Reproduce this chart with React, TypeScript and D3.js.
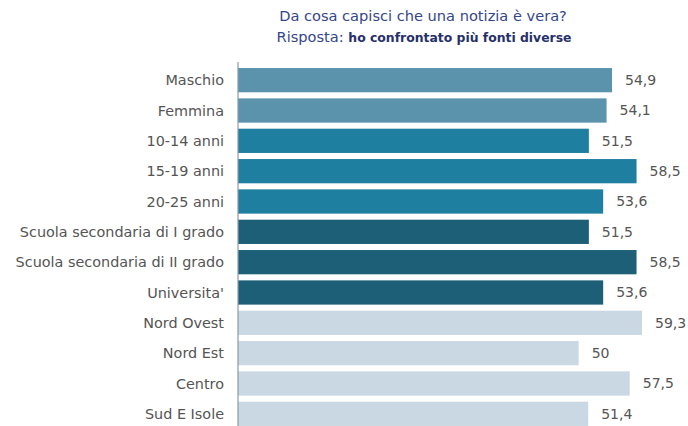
import React from "react";
import * as d3 from "d3";

const categories = [
  "Maschio",
  "Femmina",
  "10-14 anni",
  "15-19 anni",
  "20-25 anni",
  "Scuola secondaria di I grado",
  "Scuola secondaria di II grado",
  "Universita'",
  "Nord Ovest",
  "Nord Est",
  "Centro",
  "Sud E Isole",
];
const values = [54.9, 54.1, 51.5, 58.5, 53.6, 51.5, 58.5, 53.6, 59.3, 50, 57.5, 51.4];
const groups = ["gender", "gender", "age", "age", "age", "edu", "edu", "edu", "area", "area", "area", "area"];
const groupColors: Record<string, string> = {
  gender: "#5b93ad",
  age: "#1f7fa0",
  edu: "#1e5f78",
  area: "#c9d8e2",
};
const titleLine1 = "Da cosa capisci che una notizia è vera?";
const titlePrefix = "Risposta: ";
const titleBold = "ho confrontato più fonti diverse";

const W = 688;
const H = 426;
const margin = { left: 238, top: 65, bottom: -3 };

export default function App() {
  const x = d3.scaleLinear().domain([0, 59.3]).range([margin.left, 642]);
  const y = d3
    .scaleBand<string>()
    .domain(categories)
    .range([margin.top, H - margin.bottom])
    .paddingInner(0.2)
    .paddingOuter(0.1);
  const font = "'DejaVu Sans', sans-serif";
  return (
    <svg
      width={W}
      height={H}
      style={{ position: "absolute", left: 0, top: 0, background: "#fff" }}
      fontFamily={font}
    >
      <text x={423} y={21} textAnchor="middle" fontSize={14.6} fill="#34468a">
        {titleLine1}
      </text>
      <text x={424} y={42} textAnchor="middle" fontSize={14.6} fill="#34468a">
        <tspan>{titlePrefix}</tspan>
        <tspan fontWeight="bold" fill="#26306a" fontSize={12.4}>{titleBold}</tspan>
      </text>
      {categories.map((c, i) => (
        <g key={c}>
          <rect
            x={x(0)}
            y={y(c)!}
            width={x(values[i]) - x(0)}
            height={y.bandwidth()}
            fill={groupColors[groups[i]]}
          />
          <text
            x={x(0) - 14}
            y={y(c)! + y.bandwidth() / 2}
            dy="0.35em"
            textAnchor="end"
            fontSize={14.4}
            fill="#555"
          >
            {c}
          </text>
          <text
            x={x(values[i]) + 13}
            y={y(c)! + y.bandwidth() / 2}
            dy="0.35em"
            textAnchor="start"
            fontSize={14}
            fill="#555"
          >
            {String(values[i]).replace(".", ",")}
          </text>
        </g>
      ))}
      <line x1={x(0)} x2={x(0)} y1={margin.top - 3} y2={H} stroke="#8a9aa8" strokeWidth={1.2} />
    </svg>
  );
}
